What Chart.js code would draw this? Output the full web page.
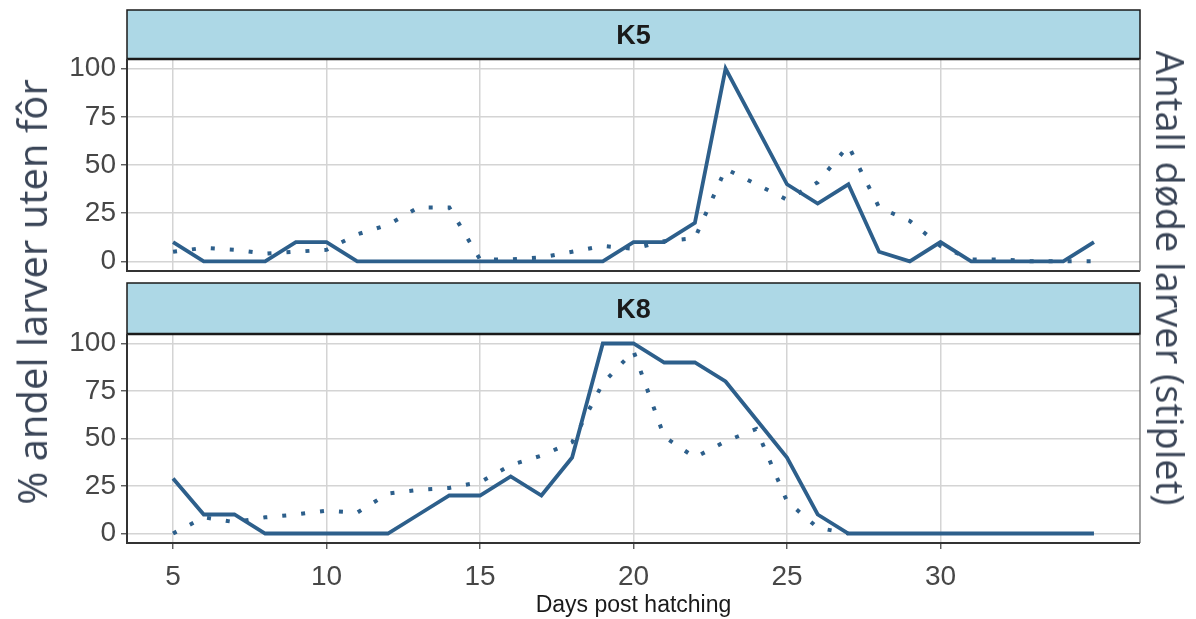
<!DOCTYPE html>
<html>
<head>
<meta charset="utf-8">
<script src="https://cdn.jsdelivr.net/npm/chart.js@4.4.1/dist/chart.umd.min.js"></script>
<style>
html,body{margin:0;padding:0;background:#fff;}
#wrap{position:relative;width:1196px;height:619px;overflow:hidden;background:#fff;}
canvas{position:absolute;left:0;top:0;}
.ttl{position:absolute;font-family:'Open Sans',sans-serif;color:#3a4557;white-space:nowrap;line-height:1;}
</style>
</head>
<body>
<div id="wrap">
<canvas id="c1" width="1196" height="619"></canvas>
<canvas id="c2" width="1196" height="619"></canvas>
<div id="lt" class="ttl" style="font-size:40px;left:32px;top:292px;transform:translate(-50%,-50%) rotate(-90deg);">% andel larver uten fôr</div>
<div id="rt" class="ttl" style="font-size:38px;left:1171px;top:278px;transform:translate(-50%,-50%) rotate(90deg);">Antall døde larver (stiplet)</div>
</div>
<script>
// ---- data ----
const days = [5,6,7,8,9,10,11,12,13,14,15,16,17,18,19,20,21,22,23,24,25,26,27,28,29,30,31,32,33,34,35];
const k5Pct  = [10,0,0,0,10,10,0,0,0,0,0,0,0,0,0,10,10,20,100,70,40,30,40,5,0,10,0,0,0,0,10];
const k5Dead = [5,7,6,4,5,6,14,19,28,28,1,1,2,5,8,6.5,10.5,12,48,40,32,41,60,28,21,8,1,1,0,0,0];
const k8Pct  = [29,10,10,0,0,0,0,0,10,20,20,30,20,40,100,100,90,90,80,60,40,10,0,0,0,0,0,0,0,0,0];
const k8Dead = [0,8.5,6,8.5,10,12,11,21,23,24,27,36,41,48,79,96,51,40,48.5,55,17,3,0,null,null,null,null,null,null,null,null];
const xTicks = [5,10,15,20,25,30];
const yTicks = [0,25,50,75,100];
const panelLabels = ['K5','K8'];

const LINE = '#2d5f8b';
const GRID = '#d4d4d4';
const TXT = '#474747';
const FONT = '"Liberation Sans", Arial, sans-serif';

function pts(vals){ return days.map((d,i)=>({x:d, y:vals[i]})); }

function panelPlugin(label, stripTop){
  return {
    id:'panel'+label,
    afterDraw(chart){
      const {ctx, chartArea:a} = chart;
      ctx.save();
      ctx.fillStyle = '#add8e6';
      ctx.fillRect(a.left, stripTop, a.right-a.left, a.top-stripTop);
      ctx.strokeStyle = '#1a1a1a';
      ctx.lineWidth = 1.5;
      ctx.strokeRect(a.left, stripTop, a.right-a.left, a.top-stripTop);
      ctx.lineWidth = 2.5;
      ctx.beginPath(); ctx.moveTo(a.left, a.top); ctx.lineTo(a.right, a.top); ctx.stroke();
      ctx.fillStyle = '#1a1a1a';
      ctx.font = 'bold 27px ' + FONT;
      ctx.textAlign = 'center'; ctx.textBaseline = 'middle';
      ctx.fillText(label, (a.left+a.right)/2, (stripTop+a.top)/2+2);
      ctx.strokeStyle = '#333333';
      ctx.lineWidth = 2;
      ctx.beginPath();
      ctx.moveTo(a.left, a.top); ctx.lineTo(a.left, a.bottom); ctx.lineTo(a.right, a.bottom);
      ctx.stroke();
      ctx.strokeStyle = '#666666';
      ctx.lineWidth = 1.2;
      ctx.beginPath(); ctx.moveTo(a.right, a.top); ctx.lineTo(a.right, a.bottom); ctx.stroke();
      ctx.restore();
    }
  };
}

function makeChart(id, pct, dead, label, padTop, stripTop, xHeight, showX){
  return new Chart(document.getElementById(id), {
    type:'line',
    data:{ datasets:[
      {data:pts(pct), borderColor:LINE, borderWidth:3.8, pointRadius:0, tension:0, fill:false},
      {data:pts(dead), borderColor:LINE, borderWidth:4, borderDash:[4,15], pointRadius:0, tension:0, fill:false, spanGaps:false}
    ]},
    options:{
      responsive:false, animation:false,
      layout:{padding:{top:padTop, right:56, left:0, bottom: showX ? 0 : (619-271)}},
      plugins:{legend:{display:false}, tooltip:{enabled:false}},
      scales:{
        x:{type:'linear', min:3.5, max:36.5,
          afterBuildTicks(s){ s.ticks = xTicks.map(v=>({value:v})); },
          afterFit(s){ s.height = xHeight; },
          grid:{color:GRID, lineWidth:1.5, drawTicks:showX, tickLength:6, tickColor:'#4d4d4d', tickWidth:1.3},
          border:{display:false},
          ticks:{display:showX, color:TXT, padding:11, maxRotation:0, font:{family:FONT, size:28}},
          title:{display:showX, text:'Days post hatching', color:'#1a1a1a', padding:{top:0,bottom:0}, font:{family:FONT, size:23}}
        },
        y:{type:'linear', min:-5, max:105,
          afterBuildTicks(s){ s.ticks = yTicks.map(v=>({value:v})); },
          afterFit(s){ s.width = 127; },
          grid:{color:GRID, lineWidth:1.5, tickLength:6, tickColor:'#4d4d4d', tickWidth:1.3},
          border:{display:false},
          ticks:{color:TXT, padding:5, font:{family:FONT, size:28}}
        }
      }
    },
    plugins:[panelPlugin(label, stripTop)]
  });
}

makeChart('c1', k5Pct, k5Dead, panelLabels[0], 59, 10, 0, false);
makeChart('c2', k8Pct, k8Dead, panelLabels[1], 334, 283, 76, true);
</script>
</body>
</html>
